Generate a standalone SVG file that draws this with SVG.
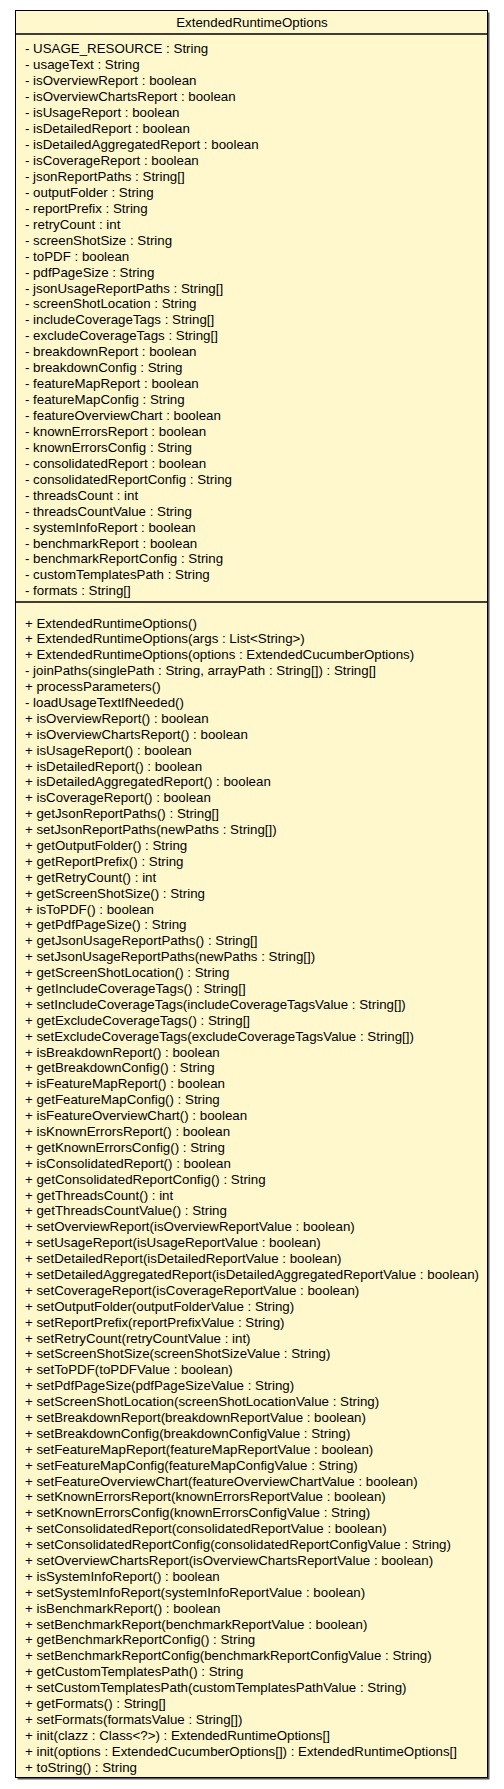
<svg xmlns="http://www.w3.org/2000/svg" width="504" height="1789" viewBox="0 0 504 1789">
<style>
.t{font-family:"Liberation Sans",Arial,Helvetica,sans-serif;font-size:13.3px;fill:#000}
.box{fill:#fff8cd;stroke:#000;stroke-width:1}
.shadow{fill:#5a5a5a}
.div{stroke:#000;stroke-width:1.3}
</style>
<rect width="504" height="1789" fill="#ffffff"/>
<g id="ExtendedRuntimeOptions">
<rect class="shadow" x="17.5" y="12.5" width="472" height="1767"/>
<rect class="box" x="15.5" y="10.5" width="472" height="1767"/>
<line class="div" x1="15.5" y1="34" x2="487.5" y2="34"/>
<line class="div" x1="15.5" y1="602" x2="487.5" y2="602"/>
<text class="t" x="252" y="26.7" text-anchor="middle">ExtendedRuntimeOptions</text>
<text class="t" x="25" y="53.4">
<tspan x="25">- USAGE_RESOURCE : String</tspan>
<tspan x="25" dy="15.94">- usageText : String</tspan>
<tspan x="25" dy="15.94">- isOverviewReport : boolean</tspan>
<tspan x="25" dy="15.94">- isOverviewChartsReport : boolean</tspan>
<tspan x="25" dy="15.94">- isUsageReport : boolean</tspan>
<tspan x="25" dy="15.94">- isDetailedReport : boolean</tspan>
<tspan x="25" dy="15.94">- isDetailedAggregatedReport : boolean</tspan>
<tspan x="25" dy="15.94">- isCoverageReport : boolean</tspan>
<tspan x="25" dy="15.94">- jsonReportPaths : String[]</tspan>
<tspan x="25" dy="15.94">- outputFolder : String</tspan>
<tspan x="25" dy="15.94">- reportPrefix : String</tspan>
<tspan x="25" dy="15.94">- retryCount : int</tspan>
<tspan x="25" dy="15.94">- screenShotSize : String</tspan>
<tspan x="25" dy="15.94">- toPDF : boolean</tspan>
<tspan x="25" dy="15.94">- pdfPageSize : String</tspan>
<tspan x="25" dy="15.94">- jsonUsageReportPaths : String[]</tspan>
<tspan x="25" dy="15.94">- screenShotLocation : String</tspan>
<tspan x="25" dy="15.94">- includeCoverageTags : String[]</tspan>
<tspan x="25" dy="15.94">- excludeCoverageTags : String[]</tspan>
<tspan x="25" dy="15.94">- breakdownReport : boolean</tspan>
<tspan x="25" dy="15.94">- breakdownConfig : String</tspan>
<tspan x="25" dy="15.94">- featureMapReport : boolean</tspan>
<tspan x="25" dy="15.94">- featureMapConfig : String</tspan>
<tspan x="25" dy="15.94">- featureOverviewChart : boolean</tspan>
<tspan x="25" dy="15.94">- knownErrorsReport : boolean</tspan>
<tspan x="25" dy="15.94">- knownErrorsConfig : String</tspan>
<tspan x="25" dy="15.94">- consolidatedReport : boolean</tspan>
<tspan x="25" dy="15.94">- consolidatedReportConfig : String</tspan>
<tspan x="25" dy="15.94">- threadsCount : int</tspan>
<tspan x="25" dy="15.94">- threadsCountValue : String</tspan>
<tspan x="25" dy="15.94">- systemInfoReport : boolean</tspan>
<tspan x="25" dy="15.94">- benchmarkReport : boolean</tspan>
<tspan x="25" dy="15.94">- benchmarkReportConfig : String</tspan>
<tspan x="25" dy="15.94">- customTemplatesPath : String</tspan>
<tspan x="25" dy="15.94">- formats : String[]</tspan>
</text>
<text class="t" x="25" y="627.5">
<tspan x="25">+ ExtendedRuntimeOptions()</tspan>
<tspan x="25" dy="15.89">+ ExtendedRuntimeOptions(args : List&lt;String&gt;)</tspan>
<tspan x="25" dy="15.89">+ ExtendedRuntimeOptions(options : ExtendedCucumberOptions)</tspan>
<tspan x="25" dy="15.89">- joinPaths(singlePath : String, arrayPath : String[]) : String[]</tspan>
<tspan x="25" dy="15.89">+ processParameters()</tspan>
<tspan x="25" dy="15.89">- loadUsageTextIfNeeded()</tspan>
<tspan x="25" dy="15.89">+ isOverviewReport() : boolean</tspan>
<tspan x="25" dy="15.89">+ isOverviewChartsReport() : boolean</tspan>
<tspan x="25" dy="15.89">+ isUsageReport() : boolean</tspan>
<tspan x="25" dy="15.89">+ isDetailedReport() : boolean</tspan>
<tspan x="25" dy="15.89">+ isDetailedAggregatedReport() : boolean</tspan>
<tspan x="25" dy="15.89">+ isCoverageReport() : boolean</tspan>
<tspan x="25" dy="15.89">+ getJsonReportPaths() : String[]</tspan>
<tspan x="25" dy="15.89">+ setJsonReportPaths(newPaths : String[])</tspan>
<tspan x="25" dy="15.89">+ getOutputFolder() : String</tspan>
<tspan x="25" dy="15.89">+ getReportPrefix() : String</tspan>
<tspan x="25" dy="15.89">+ getRetryCount() : int</tspan>
<tspan x="25" dy="15.89">+ getScreenShotSize() : String</tspan>
<tspan x="25" dy="15.89">+ isToPDF() : boolean</tspan>
<tspan x="25" dy="15.89">+ getPdfPageSize() : String</tspan>
<tspan x="25" dy="15.89">+ getJsonUsageReportPaths() : String[]</tspan>
<tspan x="25" dy="15.89">+ setJsonUsageReportPaths(newPaths : String[])</tspan>
<tspan x="25" dy="15.89">+ getScreenShotLocation() : String</tspan>
<tspan x="25" dy="15.89">+ getIncludeCoverageTags() : String[]</tspan>
<tspan x="25" dy="15.89">+ setIncludeCoverageTags(includeCoverageTagsValue : String[])</tspan>
<tspan x="25" dy="15.89">+ getExcludeCoverageTags() : String[]</tspan>
<tspan x="25" dy="15.89">+ setExcludeCoverageTags(excludeCoverageTagsValue : String[])</tspan>
<tspan x="25" dy="15.89">+ isBreakdownReport() : boolean</tspan>
<tspan x="25" dy="15.89">+ getBreakdownConfig() : String</tspan>
<tspan x="25" dy="15.89">+ isFeatureMapReport() : boolean</tspan>
<tspan x="25" dy="15.89">+ getFeatureMapConfig() : String</tspan>
<tspan x="25" dy="15.89">+ isFeatureOverviewChart() : boolean</tspan>
<tspan x="25" dy="15.89">+ isKnownErrorsReport() : boolean</tspan>
<tspan x="25" dy="15.89">+ getKnownErrorsConfig() : String</tspan>
<tspan x="25" dy="15.89">+ isConsolidatedReport() : boolean</tspan>
<tspan x="25" dy="15.89">+ getConsolidatedReportConfig() : String</tspan>
<tspan x="25" dy="15.89">+ getThreadsCount() : int</tspan>
<tspan x="25" dy="15.89">+ getThreadsCountValue() : String</tspan>
<tspan x="25" dy="15.89">+ setOverviewReport(isOverviewReportValue : boolean)</tspan>
<tspan x="25" dy="15.89">+ setUsageReport(isUsageReportValue : boolean)</tspan>
<tspan x="25" dy="15.89">+ setDetailedReport(isDetailedReportValue : boolean)</tspan>
<tspan x="25" dy="15.89">+ setDetailedAggregatedReport(isDetailedAggregatedReportValue : boolean)</tspan>
<tspan x="25" dy="15.89">+ setCoverageReport(isCoverageReportValue : boolean)</tspan>
<tspan x="25" dy="15.89">+ setOutputFolder(outputFolderValue : String)</tspan>
<tspan x="25" dy="15.89">+ setReportPrefix(reportPrefixValue : String)</tspan>
<tspan x="25" dy="15.89">+ setRetryCount(retryCountValue : int)</tspan>
<tspan x="25" dy="15.89">+ setScreenShotSize(screenShotSizeValue : String)</tspan>
<tspan x="25" dy="15.89">+ setToPDF(toPDFValue : boolean)</tspan>
<tspan x="25" dy="15.89">+ setPdfPageSize(pdfPageSizeValue : String)</tspan>
<tspan x="25" dy="15.89">+ setScreenShotLocation(screenShotLocationValue : String)</tspan>
<tspan x="25" dy="15.89">+ setBreakdownReport(breakdownReportValue : boolean)</tspan>
<tspan x="25" dy="15.89">+ setBreakdownConfig(breakdownConfigValue : String)</tspan>
<tspan x="25" dy="15.89">+ setFeatureMapReport(featureMapReportValue : boolean)</tspan>
<tspan x="25" dy="15.89">+ setFeatureMapConfig(featureMapConfigValue : String)</tspan>
<tspan x="25" dy="15.89">+ setFeatureOverviewChart(featureOverviewChartValue : boolean)</tspan>
<tspan x="25" dy="15.89">+ setKnownErrorsReport(knownErrorsReportValue : boolean)</tspan>
<tspan x="25" dy="15.89">+ setKnownErrorsConfig(knownErrorsConfigValue : String)</tspan>
<tspan x="25" dy="15.89">+ setConsolidatedReport(consolidatedReportValue : boolean)</tspan>
<tspan x="25" dy="15.89">+ setConsolidatedReportConfig(consolidatedReportConfigValue : String)</tspan>
<tspan x="25" dy="15.89">+ setOverviewChartsReport(isOverviewChartsReportValue : boolean)</tspan>
<tspan x="25" dy="15.89">+ isSystemInfoReport() : boolean</tspan>
<tspan x="25" dy="15.89">+ setSystemInfoReport(systemInfoReportValue : boolean)</tspan>
<tspan x="25" dy="15.89">+ isBenchmarkReport() : boolean</tspan>
<tspan x="25" dy="15.89">+ setBenchmarkReport(benchmarkReportValue : boolean)</tspan>
<tspan x="25" dy="15.89">+ getBenchmarkReportConfig() : String</tspan>
<tspan x="25" dy="15.89">+ setBenchmarkReportConfig(benchmarkReportConfigValue : String)</tspan>
<tspan x="25" dy="15.89">+ getCustomTemplatesPath() : String</tspan>
<tspan x="25" dy="15.89">+ setCustomTemplatesPath(customTemplatesPathValue : String)</tspan>
<tspan x="25" dy="15.89">+ getFormats() : String[]</tspan>
<tspan x="25" dy="15.89">+ setFormats(formatsValue : String[])</tspan>
<tspan x="25" dy="15.89">+ init(clazz : Class&lt;?&gt;) : ExtendedRuntimeOptions[]</tspan>
<tspan x="25" dy="15.89">+ init(options : ExtendedCucumberOptions[]) : ExtendedRuntimeOptions[]</tspan>
<tspan x="25" dy="15.89">+ toString() : String</tspan>
</text>
</g>
<g id="connectors"/>
</svg>
